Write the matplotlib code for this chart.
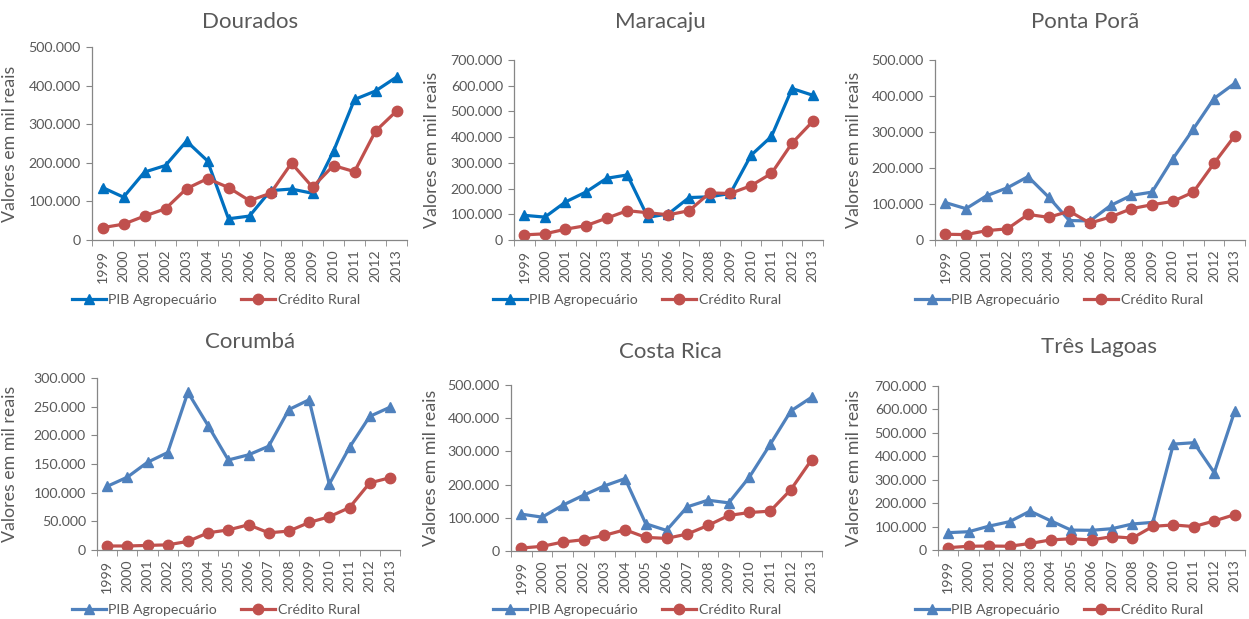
import numpy as np
import matplotlib
matplotlib.use("Agg")
import matplotlib.pyplot as plt
from matplotlib.ticker import FuncFormatter, MultipleLocator

plt.rcParams['font.family'] = ['Lato', 'DejaVu Sans']

anos = [str(a) for a in range(1999, 2014)]

# valores em mil reais
dourados_pib = [136, 111, 176, 193, 256, 205, 55, 62, 128, 132, 121, 230, 364, 386, 422]
dourados_cred = [32, 41, 62, 81, 133, 159, 136, 102, 121, 199, 137, 193, 177, 282, 334]

maracaju_pib = [96, 89, 148, 187, 240, 253, 88, 102, 165, 168, 181, 329, 403, 589, 563]
maracaju_cred = [20, 24, 42, 56, 85, 114, 106, 98, 114, 183, 181, 211, 259, 377, 461]

pontapora_pib = [104, 87, 123, 145, 176, 119, 54, 53, 96, 124, 133, 225, 308, 393, 435]
pontapora_cred = [16, 15, 26, 31, 71, 63, 80, 47, 64, 87, 98, 107, 133, 213, 289]

corumba_pib = [111, 127, 153, 170, 275, 217, 157, 166, 181, 245, 262, 115, 179, 233, 249]
corumba_cred = [7, 7, 8, 9, 15, 30, 35, 44, 30, 33, 48, 58, 74, 117, 126]

costarica_pib = [111, 102, 138, 168, 196, 218, 82, 62, 133, 153, 145, 223, 321, 422, 463]
costarica_cred = [9, 14, 27, 34, 47, 64, 41, 38, 51, 77, 107, 116, 120, 185, 275]

treslagoas_pib = [74, 78, 102, 121, 166, 125, 85, 84, 91, 111, 118, 452, 458, 330, 593]
treslagoas_cred = [10, 16, 17, 16, 28, 43, 48, 43, 57, 51, 101, 107, 100, 124, 151]

W, H = 1249, 619
azul_escuro = '#0070C0'
azul = '#4F81BD'
vermelho = '#C0504D'
cinza_txt = '#595959'
cinza_eixo = '#868686'

# (titulo, pib, credito, cor pib, y max, passo, [esq, topo, dir, base] em px,
#  titulo x/y px, legenda centro x/y px, ylabel x)
paineis = [
    ("Dourados", dourados_pib, dourados_cred, azul_escuro, 500, 100,
     [92, 47, 407, 240], (250, 22), (216, 300), -0.235),
    ("Maracaju", maracaju_pib, maracaju_cred, azul_escuro, 700, 100,
     [514, 60, 823, 240], (660, 22), (637, 300), -0.239),
    ("Ponta Porã", pontapora_pib, pontapora_cred, azul, 500, 100,
     [935, 60, 1245, 240], (1085, 22), (1059, 300), -0.237),
    ("Corumbá", corumba_pib, corumba_cred, azul, 300, 50,
     [97, 378, 400, 550], (250, 342), (216, 610), -0.262),
    ("Costa Rica", costarica_pib, costarica_cred, azul, 500, 100,
     [511, 385, 822, 551], (670, 352), (637, 610), -0.232),
    ("Três Lagoas", treslagoas_pib, treslagoas_cred, azul, 700, 100,
     [938, 386, 1245, 550], (1099, 347), (1059, 610), -0.248),
]

fmt = FuncFormatter(lambda v, p: "0" if v == 0 else f"{int(v * 1000):,}".replace(",", "."))

fig = plt.figure(figsize=(W / 100, H / 100), dpi=100)

for titulo, pib, cred, cor, ymax, passo, box, tpos, lpos, ylx in paineis:
    l, t, r, b = box
    ax = fig.add_axes([l / W, 1 - b / H, (r - l) / W, (b - t) / H])
    x = np.arange(len(anos))
    h1, = ax.plot(x, pib, color=cor, lw=2.3, marker='^', ms=7.5, label='PIB Agropecuário')
    h2, = ax.plot(x, cred, color=vermelho, lw=2.3, marker='o', ms=7.5, label='Crédito Rural')

    ax.set_xlim(-0.5, len(anos) - 0.5)
    ax.set_ylim(0, ymax)
    ax.yaxis.set_major_locator(MultipleLocator(passo))
    ax.yaxis.set_major_formatter(fmt)

    ax.set_xticks(x)
    ax.set_xticklabels(anos, rotation=90)
    ax.tick_params(axis='x', which='major', length=0, pad=7)
    ax.set_xticks(np.arange(-0.5, len(anos)), minor=True)
    ax.tick_params(axis='x', which='minor', length=4, color=cinza_eixo, direction='out')
    ax.tick_params(axis='y', length=4, color=cinza_eixo, pad=4)
    ax.tick_params(labelsize=10.2, labelcolor=cinza_txt)

    for s in ['top', 'right']:
        ax.spines[s].set_visible(False)
    for s in ['left', 'bottom']:
        ax.spines[s].set_color(cinza_eixo)
        ax.spines[s].set_linewidth(0.9)

    ax.set_ylabel('Valores em mil reais', fontsize=12.8, color=cinza_txt)
    ax.yaxis.set_label_coords(ylx, 0.5)

    fig.text(tpos[0] / W, 1 - tpos[1] / H, titulo, fontsize=16, color=cinza_txt,
             ha='center', va='center')
    fig.legend(handles=[h1, h2], loc='center',
               bbox_to_anchor=(lpos[0] / W, 1 - lpos[1] / H),
               ncol=2, frameon=False, fontsize=10.2, labelcolor=cinza_txt,
               handlelength=2.4, handletextpad=0.2, columnspacing=1.7,
               borderpad=0, borderaxespad=0)

fig.savefig('out.png', dpi=100, facecolor='white')
